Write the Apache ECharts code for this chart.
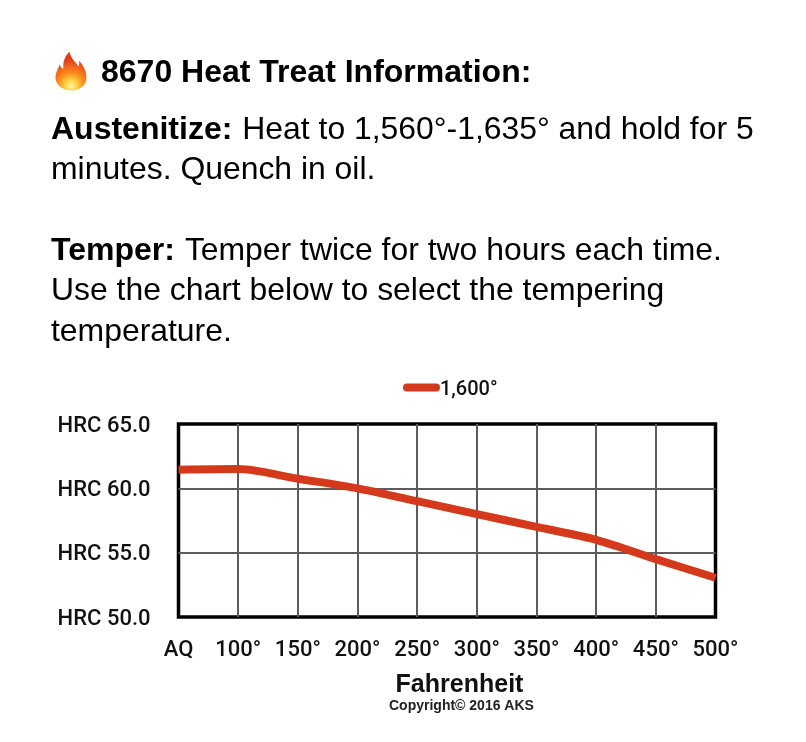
<!DOCTYPE html>
<html>
<head>
<meta charset="utf-8">
<style>html,body{margin:0;padding:0;background:#fff}#c{width:806px;height:742px}</style>
<script src="https://cdn.jsdelivr.net/npm/echarts@6/dist/echarts.min.js"></script>
</head>
<body>
<div id="c"></div>
<script>
const categories = ['AQ','100°','150°','200°','250°','300°','350°','400°','450°','500°'];
const seriesName = '1,600°';
const hardness = [61.45,61.5,60.75,60.0,59.0,58.0,57.0,56.0,54.5,53.05];
const yTicks = {min:50,max:65,interval:5};
const textFont = '"Liberation Sans", Arial, sans-serif';
const labelFont = 'Roboto, "Liberation Sans", sans-serif';
const textBlocks = [
  {x:101,y:73,t:'{b|8670 Heat Treat Information:}'},
  {x:51,y:130,t:'{b|Austenitize:}{a|Heat to 1,560°-1,635° and hold for 5}'},
  {x:51,y:170,t:'{n|minutes. Quench in oil.}'},
  {x:51,y:251,t:'{b|Temper:}{a|Temper twice for two hours each time.}'},
  {x:51,y:291,t:'{n|Use the chart below to select the tempering}'},
  {x:51,y:332,t:'{n|temperature.}'}
];
echarts.graphic.registerShape('flame', echarts.graphic.extendPath(
  'M14 0 C15 7 20 10 23 15 C24 12 24 11 23.5 9 C28 14 31 20 31 26 C31 34 24 39 16 39 C7 39 0 33 0 26 C0 21 3 17 4 13 C5 15 6 17 8 17 C7 11 9 5 14 0 Z', {}));
const chart = echarts.init(document.getElementById('c'),null,{renderer:'canvas'});
const labelStyle = {fontFamily:labelFont,fontWeight:500,fontSize:22,color:'#111'};
const shiftRich = (size,gap)=>({
  s:{fontSize:1,lineHeight:gap,color:'#fff'},
  v:{fontFamily:labelFont,fontWeight:500,fontSize:size,color:'#111',lineHeight:size+4}
});
chart.setOption({
  animation:false,
  backgroundColor:'#fff',
  title:textBlocks.map(b=>({
    left:b.x, top:b.y-16, padding:0,
    text:b.t,
    textStyle:{
      fontWeight:'normal',
      rich:{
        b:{fontFamily:textFont,fontWeight:'bold',fontSize:32,color:'#000',lineHeight:32},
        n:{fontFamily:textFont,fontWeight:'normal',fontSize:31.9,color:'#000',lineHeight:32},
        a:{fontFamily:textFont,fontWeight:'normal',fontSize:31.9,color:'#000',lineHeight:32,padding:[0,0,0,10]}
      }
    }
  })),
  legend:{
    show:true,left:403,top:375,padding:0,
    itemWidth:37,itemHeight:8,itemGap:0,
    icon:'path://M4 0H33A4 4 0 0 1 33 8H4A4 4 0 0 1 4 0Z',
    formatter:n=>'{s| }\n{v|'+n+'}',
    textStyle:{padding:[0,0,0,-5],rich:shiftRich(20,5)},
    data:[seriesName]
  },
  grid:{left:178.5,top:424,width:537,height:193,show:true,borderColor:'#000',borderWidth:3.5,backgroundColor:'#fff'},
  xAxis:{
    type:'category',boundaryGap:false,data:categories,
    axisLine:{show:false},axisTick:{show:false},
    axisLabel:Object.assign({},labelStyle,{margin:22,showMinLabel:true,showMaxLabel:true,interval:0,hideOverlap:false}),
    splitLine:{show:true,showMinLine:false,showMaxLine:false,lineStyle:{color:'#5c5c5c',width:2}},
    name:'Fahrenheit',nameLocation:'middle',nameGap:56,
    nameTextStyle:{fontFamily:textFont,fontWeight:'bold',fontSize:25,color:'#111',padding:[0,0,0,25]}
  },
  yAxis:{
    type:'value',min:yTicks.min,max:yTicks.max,interval:yTicks.interval,
    axisLine:{show:false},axisTick:{show:false},
    axisLabel:{margin:28,formatter:v=>'{s| }\n{v|HRC '+v.toFixed(1)+'}',rich:shiftRich(22,4)},
    splitLine:{show:true,showMinLine:false,showMaxLine:false,lineStyle:{color:'#5c5c5c',width:2}}
  },
  series:[{
    name:seriesName,type:'line',data:hardness,smooth:0.3,symbol:'none',
    lineStyle:{color:'#d5391c',width:8},itemStyle:{color:'#d5391c'},clip:true
  }],
  graphic:[
    {type:'text',left:389,top:699,style:{text:'Copyright© 2016 AKS',fontFamily:textFont,fontWeight:'bold',fontSize:14,fill:'#222'}},
    {type:'flame',x:55.5,y:51.5,
      style:{fill:new echarts.graphic.RadialGradient(0.5,0.88,0.85,[
        {offset:0,color:'#fff7b8'},{offset:0.22,color:'#ffd23f'},{offset:0.5,color:'#fa8c1e'},{offset:1,color:'#e23b1c'}])}}
  ]
});
</script>
</body>
</html>
